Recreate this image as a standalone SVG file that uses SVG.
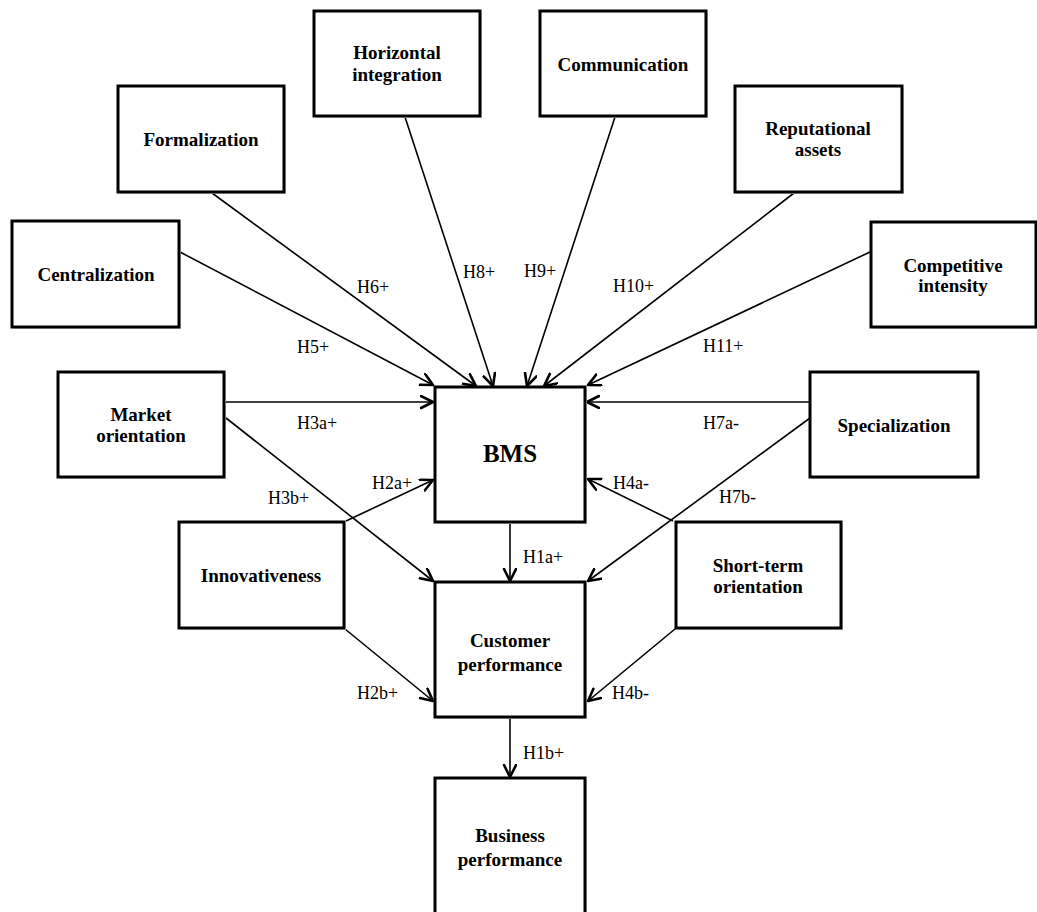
<svg xmlns="http://www.w3.org/2000/svg" width="1037" height="912" viewBox="0 0 1037 912">
<style>
.box{fill:#fff;stroke:#000;stroke-width:3}
.sh{fill:#d8d8d8;stroke:none}
.t{font-family:"Liberation Serif","Times New Roman",serif;font-weight:bold;font-size:19px;fill:#000;text-anchor:middle}
.big{font-size:25px}
.lbl{font-family:"Liberation Serif","Times New Roman",serif;font-size:18px;fill:#000}
.c line{stroke:#000;stroke-width:1.6;marker-end:url(#a)}
</style>
<defs>
<marker id="a" markerUnits="userSpaceOnUse" markerWidth="16" markerHeight="16" refX="13" refY="7" orient="auto">
<path d="M1,1 L13,7 L1,13" fill="none" stroke="#000" stroke-width="2.6" stroke-linecap="round" stroke-linejoin="round"/>
</marker>
</defs>
<rect width="1037" height="912" fill="#fff"/>
<g class="c" id="connectors">
<line x1="180" y1="252" x2="433" y2="385"/>
<line x1="212" y1="193" x2="476" y2="386"/>
<line x1="405" y1="117" x2="493" y2="386"/>
<line x1="615" y1="117" x2="527" y2="386"/>
<line x1="794" y1="193" x2="544" y2="386"/>
<line x1="870" y1="252" x2="588" y2="385"/>
<line x1="224" y1="402" x2="433" y2="402"/>
<line x1="810" y1="402" x2="587" y2="402"/>
<line x1="346" y1="521" x2="433" y2="480"/>
<line x1="673" y1="521" x2="588" y2="479"/>
<line x1="226" y1="418" x2="433" y2="581"/>
<line x1="810" y1="418" x2="588" y2="581"/>
<line x1="510" y1="523" x2="510" y2="581"/>
<line x1="345" y1="629" x2="433" y2="701"/>
<line x1="675" y1="629" x2="588" y2="701"/>
<line x1="510" y1="718" x2="510" y2="777"/>
</g>
<g id="labels">
<text class="lbl" x="357" y="293">H6+</text>
<text class="lbl" x="463" y="278">H8+</text>
<text class="lbl" x="524" y="277">H9+</text>
<text class="lbl" x="613" y="292">H10+</text>
<text class="lbl" x="703" y="352">H11+</text>
<text class="lbl" x="297" y="353">H5+</text>
<text class="lbl" x="297" y="429">H3a+</text>
<text class="lbl" x="703" y="429">H7a-</text>
<text class="lbl" x="372" y="489">H2a+</text>
<text class="lbl" x="613" y="489">H4a-</text>
<text class="lbl" x="268" y="504">H3b+</text>
<text class="lbl" x="719" y="503">H7b-</text>
<text class="lbl" x="523" y="563">H1a+</text>
<text class="lbl" x="357" y="699">H2b+</text>
<text class="lbl" x="612" y="699">H4b-</text>
<text class="lbl" x="523" y="759">H1b+</text>
</g>
<g id="horizontal-integration"><rect class="sh" x="316" y="13" width="166" height="105"/><rect class="box" x="314" y="11" width="166" height="105"/><text class="t" x="397" y="59">Horizontal</text><text class="t" x="397" y="81">integration</text></g>
<g id="communication"><rect class="sh" x="542" y="13" width="166" height="105"/><rect class="box" x="540" y="11" width="166" height="105"/><text class="t" x="623" y="71">Communication</text></g>
<g id="formalization"><rect class="sh" x="120" y="88" width="166" height="106"/><rect class="box" x="118" y="86" width="166" height="106"/><text class="t" x="201" y="146">Formalization</text></g>
<g id="reputational-assets"><rect class="sh" x="737" y="88" width="167" height="106"/><rect class="box" x="735" y="86" width="167" height="106"/><text class="t" x="818" y="135">Reputational</text><text class="t" x="818" y="156">assets</text></g>
<g id="centralization"><rect class="sh" x="14" y="223" width="167" height="106"/><rect class="box" x="12" y="221" width="167" height="106"/><text class="t" x="96" y="281">Centralization</text></g>
<g id="competitive-intensity"><rect class="sh" x="873" y="224" width="165" height="105"/><rect class="box" x="871" y="222" width="165" height="105"/><text class="t" x="953" y="272">Competitive</text><text class="t" x="953" y="292">intensity</text></g>
<g id="market-orientation"><rect class="sh" x="60" y="374" width="166" height="105"/><rect class="box" x="58" y="372" width="166" height="105"/><text class="t" x="141" y="421">Market</text><text class="t" x="141" y="442">orientation</text></g>
<g id="specialization"><rect class="sh" x="812" y="374" width="168" height="105"/><rect class="box" x="810" y="372" width="168" height="105"/><text class="t" x="894" y="432">Specialization</text></g>
<g id="bms"><rect class="sh" x="437" y="389" width="150" height="135"/><rect class="box" x="435" y="387" width="150" height="135"/><text class="t big" x="510" y="462">BMS</text></g>
<g id="innovativeness"><rect class="sh" x="181" y="524" width="165" height="106"/><rect class="box" x="179" y="522" width="165" height="106"/><text class="t" x="261" y="582">Innovativeness</text></g>
<g id="short-term-orientation"><rect class="sh" x="678" y="524" width="165" height="106"/><rect class="box" x="676" y="522" width="165" height="106"/><text class="t" x="758" y="572">Short-term</text><text class="t" x="758" y="593">orientation</text></g>
<g id="customer-performance"><rect class="sh" x="437" y="584" width="150" height="135"/><rect class="box" x="435" y="582" width="150" height="135"/><text class="t" x="510" y="647">Customer</text><text class="t" x="510" y="671">performance</text></g>
<g id="business-performance"><rect class="sh" x="437" y="780" width="150" height="140"/><rect class="box" x="435" y="778" width="150" height="140"/><text class="t" x="510" y="842">Business</text><text class="t" x="510" y="866">performance</text></g>
</svg>
